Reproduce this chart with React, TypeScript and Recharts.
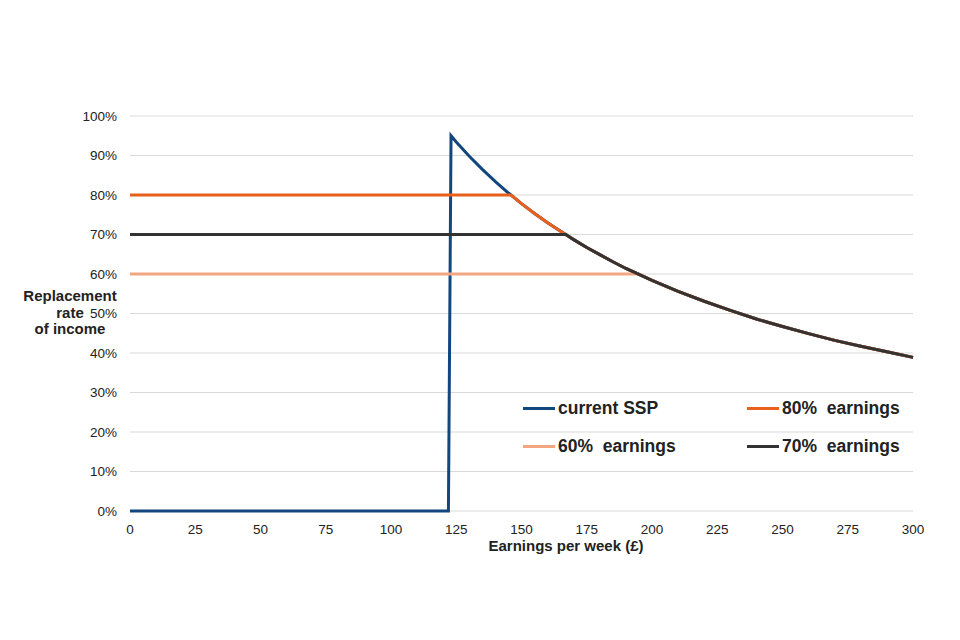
import React from 'react';
import { LineChart, Line, XAxis, YAxis, CartesianGrid } from 'recharts';

// earnings per week (£) and replacement rate (%)
const sspX = [0, 122, 123, 125, 130, 135, 140, 145, 150, 155, 160, 165, 170, 175, 180, 185, 190, 195, 200, 210, 220, 230, 240, 250, 260, 270, 280, 290, 300];
const sspY = [0, 0, 95, 93.4, 89.8, 86.5, 83.4, 80.5, 77.8, 75.3, 73.0, 70.8, 68.7, 66.7, 64.9, 63.1, 61.4, 59.9, 58.4, 55.6, 53.1, 50.8, 48.6, 46.7, 44.9, 43.2, 41.7, 40.3, 38.9];

const pct80X = [0, 146, 150, 155, 160, 165, 170, 175, 180, 185, 190, 195, 200, 210, 220, 230, 240, 250, 260, 270, 280, 290, 300];
const pct80Y = [80, 80, 77.8, 75.3, 73.0, 70.8, 68.7, 66.7, 64.9, 63.1, 61.4, 59.9, 58.4, 55.6, 53.1, 50.8, 48.6, 46.7, 44.9, 43.2, 41.7, 40.3, 38.9];

const pct70X = [0, 167, 170, 175, 180, 185, 190, 195, 200, 210, 220, 230, 240, 250, 260, 270, 280, 290, 300];
const pct70Y = [70, 70, 68.7, 66.7, 64.9, 63.1, 61.4, 59.9, 58.4, 55.6, 53.1, 50.8, 48.6, 46.7, 44.9, 43.2, 41.7, 40.3, 38.9];

const pct60X = [0, 195, 200, 210, 220, 230, 240, 250, 260, 270, 280, 290, 300];
const pct60Y = [60, 60, 58.4, 55.6, 53.1, 50.8, 48.6, 46.7, 44.9, 43.2, 41.7, 40.3, 38.9];

const xTicks = [0, 25, 50, 75, 100, 125, 150, 175, 200, 225, 250, 275, 300];
const yTicks = [0, 10, 20, 30, 40, 50, 60, 70, 80, 90, 100];

const COLORS = {
  ssp: '#12467f',
  p80: '#e8601c',
  p60: '#f4a582',
  p70: '#333333',
};

const toPoints = (xs: number[], ys: number[]) => xs.map((x, i) => ({ x, y: ys[i] }));

const FONT = 'Arial, "Liberation Sans", sans-serif';

function LegendBox() {
  const items = [
    { label: 'current SSP', color: COLORS.ssp, left: 0, top: 0 },
    { label: '80%  earnings', color: COLORS.p80, left: 224, top: 0 },
    { label: '60%  earnings', color: COLORS.p60, left: 0, top: 38 },
    { label: '70%  earnings', color: COLORS.p70, left: 224, top: 38 },
  ];
  return (
    <div style={{ position: 'absolute', left: 523, top: 396, width: 400, height: 60 }}>
      {items.map(it => (
        <div key={it.label} style={{ position: 'absolute', left: it.left, top: it.top, display: 'flex', alignItems: 'center',
          height: 24, whiteSpace: 'pre' }}>
          <span style={{ display: 'inline-block', width: 32, height: 3, background: it.color, marginRight: 3 }} />
          <span style={{ fontFamily: FONT, fontWeight: 700, fontSize: 17.5, color: '#222' }}>{it.label}</span>
        </div>
      ))}
    </div>
  );
}

export default function App() {
  return (
    <div style={{ position: 'absolute', left: 0, top: 0, width: 960, height: 640, background: '#fff', fontFamily: FONT }}>
      <LineChart width={960} height={640} margin={{ top: 116, right: 47, bottom: 99, left: 0 }}>
        <CartesianGrid stroke="#d9d9d9" vertical={false} />
        <XAxis
          type="number"
          dataKey="x"
          domain={[0, 300]}
          ticks={xTicks}
          height={30}
          tickLine={false}
          axisLine={false}
          tick={{ fill: '#222', fontSize: 13.5, fontFamily: FONT }}
          tickMargin={7}
        />
        <YAxis
          type="number"
          dataKey="y"
          domain={[0, 100]}
          ticks={yTicks}
          width={130}
          tickLine={false}
          axisLine={false}
          tick={{ fill: '#222', fontSize: 13.5, fontFamily: FONT }}
          tickMargin={7}
          tickFormatter={v => `${v}%`}
        />
        <Line data={toPoints(sspX, sspY)} dataKey="y" name="current SSP" type="linear" stroke={COLORS.ssp}
          strokeWidth={3} dot={false} isAnimationActive={false} />
        <Line data={toPoints(pct60X, pct60Y)} dataKey="y" name="60% earnings" type="linear" stroke={COLORS.p60}
          strokeWidth={3} dot={false} isAnimationActive={false} />
        <Line data={toPoints(pct80X, pct80Y)} dataKey="y" name="80% earnings" type="linear" stroke={COLORS.p80}
          strokeWidth={3} dot={false} isAnimationActive={false} />
        <Line data={toPoints(pct70X, pct70Y)} dataKey="y" name="70% earnings" type="linear" stroke={COLORS.p70}
          strokeWidth={3} dot={false} isAnimationActive={false} />
      </LineChart>
      <LegendBox />
      <div style={{ position: 'absolute', left: 10, top: 288, width: 120, textAlign: 'center', fontWeight: 700,
        fontSize: 15, lineHeight: '16.5px', color: '#222' }}>
        Replacement<br />rate<br />of income
      </div>
      <div style={{ position: 'absolute', left: 416, top: 537, width: 300, textAlign: 'center', fontWeight: 700,
        fontSize: 15, color: '#222' }}>
        Earnings per week (£)
      </div>
    </div>
  );
}
